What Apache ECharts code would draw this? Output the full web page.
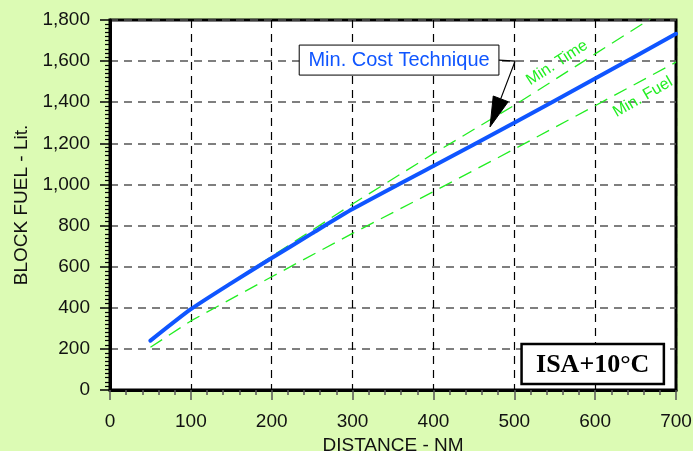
<!DOCTYPE html>
<html>
<head>
<meta charset="utf-8">
<script src="https://cdn.jsdelivr.net/npm/echarts@6/dist/echarts.min.js"></script>
<style>
  html, body { margin: 0; padding: 0; background: #dcfbb4; }
  #chart { width: 693px; height: 451px; }
</style>
</head>
<body>
<div id="chart"></div>
<script>
// Block fuel (litres) against trip distance (NM), ISA+10°C
const distance     = [50, 100, 150, 200, 250, 300, 400, 500, 600, 700];
const minCostFuel  = [240, 393, 520, 642, 762, 880, 1090, 1300, 1515, 1733];
const trendDist    = [50, 100, 200, 300, 400, 500, 600, 700];
const minTimeFuel  = [235, 395, 650, 905, 1150, 1385, 1635, 1885];
const minFuelFuel  = [208, 336, 551, 762, 965, 1172, 1383, 1595];
const xTicks = [0, 100, 200, 300, 400, 500, 600, 700];
const yTicks = [0, 200, 400, 600, 800, 1000, 1200, 1400, 1600, 1800];

const FONT = '"Liberation Sans", Arial, sans-serif';
const GREEN = '#22ee22';
const BLUE = '#0f55ff';

const chart = echarts.init(document.getElementById('chart'), null, { renderer: 'canvas' });

const pairs = (xs, ys) => xs.map((x, i) => [x, ys[i]]);

chart.setOption({
  animation: false,
  backgroundColor: '#dcfbb4',
  grid: {
    left: 110, right: 17, top: 20, bottom: 61,
    outerBoundsMode: 'none', containLabel: false,
    show: true, backgroundColor: '#ffffff',
    borderColor: '#000000', borderWidth: 3
  },
  xAxis: {
    type: 'value',
    min: xTicks[0], max: xTicks[xTicks.length - 1], interval: 100,
    name: 'DISTANCE - NM', nameLocation: 'middle', nameGap: 45,
    nameTextStyle: { fontFamily: FONT, fontSize: 19, color: '#111' },
    axisLine: { show: true, lineStyle: { color: '#000', width: 3 } },
    axisTick: { show: true, inside: false, length: 10, lineStyle: { color: '#555', width: 1.5 } },
    minorTick: { show: true, splitNumber: 5, length: 5, lineStyle: { color: '#555', width: 1.5 } },
    axisLabel: { fontFamily: FONT, fontSize: 19, color: '#111', margin: 22 },
    splitLine: { show: true, lineStyle: { color: '#000', type: [8, 6], width: 1.2 } }
  },
  yAxis: {
    type: 'value',
    min: yTicks[0], max: yTicks[yTicks.length - 1], interval: 200,
    name: 'BLOCK FUEL - Lit.', nameLocation: 'middle', nameGap: 76,
    nameTextStyle: { fontFamily: FONT, fontSize: 19, color: '#111' },
    axisLine: { show: true, lineStyle: { color: '#000', width: 3 } },
    axisTick: { show: true, inside: false, length: 10, lineStyle: { color: '#000', width: 1.5 } },
    minorTick: { show: true, splitNumber: 10, length: 5, lineStyle: { color: '#000', width: 1.2 } },
    axisLabel: {
      fontFamily: FONT, fontSize: 19, color: '#111', margin: 20,
      formatter: v => v.toLocaleString('en-US')
    },
    splitLine: { show: true, lineStyle: { color: '#555', type: [8, 6], width: 1.5 } }
  },
  series: [
    {
      name: 'Min. Time', type: 'line', data: pairs(trendDist, minTimeFuel),
      showSymbol: false, clip: true, z: 3,
      lineStyle: { color: GREEN, width: 1.3, type: [14, 8] }
    },
    {
      name: 'Min. Fuel', type: 'line', data: pairs(trendDist, minFuelFuel),
      showSymbol: false, clip: true, z: 3,
      lineStyle: { color: GREEN, width: 1.3, type: [14, 8] }
    },
    {
      name: 'Min. Cost Technique', type: 'line', data: pairs(distance, minCostFuel),
      showSymbol: false, clip: true, z: 4, smooth: 0.2,
      lineStyle: { color: BLUE, width: 4, cap: 'round' }
    }
  ]
});

// Annotations placed in data space, converted to pixels
function px(x, y) { return chart.convertToPixel({ gridIndex: 0 }, [x, y]); }

function drawAnnotations() {
  const boxTL = px(234, 1678), boxBR = px(481, 1532);
  const elbow = px(501, 1600);
  const tip = px(470, 1280);
  const boxMid = [boxBR[0], (boxTL[1] + boxBR[1]) / 2];
  // arrowhead geometry
  const dx = tip[0] - elbow[0], dy = tip[1] - elbow[1];
  const len = Math.hypot(dx, dy), ux = dx / len, uy = dy / len;
  const headLen = 30, headHalf = 8;
  const base = [tip[0] - ux * headLen, tip[1] - uy * headLen];
  const nx = -uy, ny = ux;

  const timeLbl = px(553, 1591);
  const fuelLbl = px(659, 1425);
  const isaTL = px(509, 224), isaBR = px(685, 29);

  chart.setOption({
    graphic: [
      {
        type: 'rect', z: 20,
        shape: { x: boxTL[0], y: boxTL[1], width: boxBR[0] - boxTL[0], height: boxBR[1] - boxTL[1] },
        style: { fill: '#fff', stroke: '#000', lineWidth: 1 }
      },
      {
        type: 'text', z: 21,
        x: (boxTL[0] + boxBR[0]) / 2, y: (boxTL[1] + boxBR[1]) / 2,
        style: {
          text: 'Min. Cost Technique', fill: BLUE, font: '20px ' + FONT,
          align: 'center', verticalAlign: 'middle'
        }
      },
      {
        type: 'polyline', z: 20,
        shape: { points: [boxMid, elbow, base] },
        style: { stroke: '#000', lineWidth: 1.2, fill: null }
      },
      {
        type: 'polygon', z: 20,
        shape: { points: [tip, [base[0] + nx * headHalf, base[1] + ny * headHalf], [base[0] - nx * headHalf, base[1] - ny * headHalf]] },
        style: { fill: '#000', stroke: '#000' }
      },
      {
        type: 'text', z: 20, x: timeLbl[0], y: timeLbl[1], rotation: 33 * Math.PI / 180,
        style: { text: 'Min. Time', fill: GREEN, font: '16px ' + FONT, align: 'center', verticalAlign: 'middle' }
      },
      {
        type: 'text', z: 20, x: fuelLbl[0], y: fuelLbl[1], rotation: 30 * Math.PI / 180,
        style: { text: 'Min. Fuel', fill: GREEN, font: '16px ' + FONT, align: 'center', verticalAlign: 'middle' }
      },
      {
        type: 'rect', z: 20,
        shape: { x: isaTL[0], y: isaTL[1], width: isaBR[0] - isaTL[0], height: isaBR[1] - isaTL[1] },
        style: { fill: '#fff', stroke: '#000', lineWidth: 2.5 }
      },
      {
        type: 'text', z: 21, x: (isaTL[0] + isaBR[0]) / 2, y: (isaTL[1] + isaBR[1]) / 2 + 1,
        style: {
          text: 'ISA+10°C', fill: '#000', font: 'bold 26px "Liberation Serif", "Times New Roman", serif',
          align: 'center', verticalAlign: 'middle'
        }
      }
    ]
  });
}
drawAnnotations();
</script>
</body>
</html>
